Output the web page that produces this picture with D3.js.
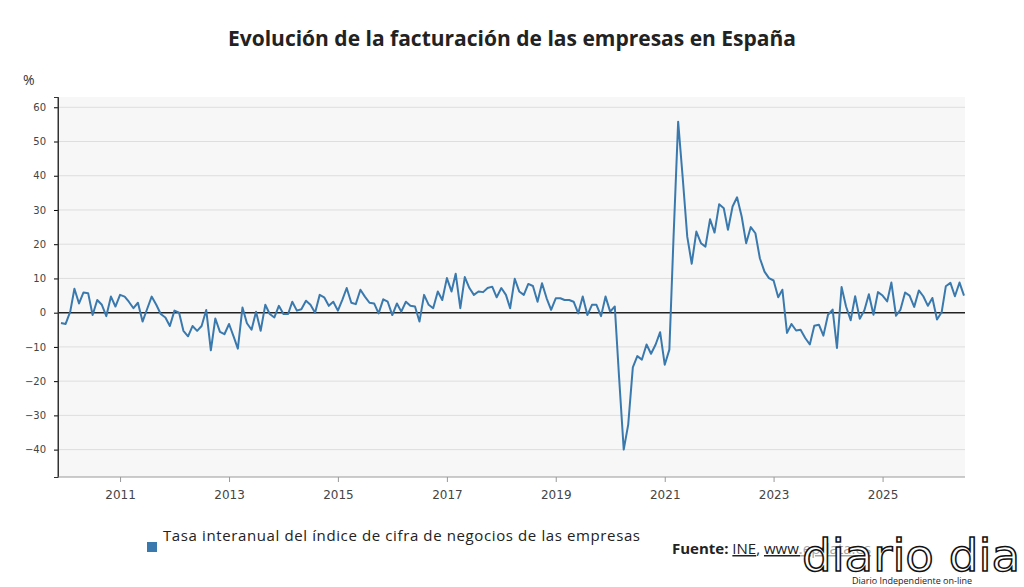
<!DOCTYPE html>
<html><head><meta charset="utf-8">
<script src="https://cdn.jsdelivr.net/npm/d3@7/dist/d3.min.js"></script>
<style>body{margin:0;background:#fff;font-family:"Open Sans","DejaVu Sans",sans-serif}</style>
</head><body><svg id="c" width="1024" height="587"></svg>
<script>
const startYear = 2009, startMonth = 11; // Dec 2009 (0-based month)
const values = [
-3,-3.3,0.3,7,2.7,5.9,5.7,-0.7,3.7,2.3,-1,4.7,
1.8,5.2,4.7,3.2,1.3,2.9,-2.6,1,4.7,2.3,-0.4,-1.4,
-3.9,0.6,0,-5.3,-6.9,-3.9,-5.3,-3.9,0.8,-11,-1.7,-5.6,
-6.3,-3.3,-7,-10.5,1.5,-3.1,-5,0.3,-5.3,2.3,-0.4,-1.4,
2,-0.4,-0.4,3.2,0.6,1,3.5,2.3,0,5.2,4.5,2,
3.2,0.6,3.9,7.2,2.9,2.5,6.7,4.7,2.9,2.7,
-0.2,3.9,3.2,-0.7,2.7,0.3,3.2,2,1.8,-2.6,5.2,2.3,1.3,6.2,3.7,10.1,6.2,11.4,1.3,10.4,7.2,5.2,6.2,6,7.2,7.6,4.5,7.2,5.2,1.3,9.9,6.2,5.2,8.4,7.8,3.2,8.6,4.2,0.8,4.2,4.2,3.7,3.7,3.2,-0.2,4.7,-0.7,2.3,2.3,-1,4.7,0.3,1.8,
-19,-40,-32.7,-16,-12.7,-13.7,-9.3,-12,-9.3,-5.7,-15.2,-10.8,22,55.8,39.7,22.2,14.3,23.7,20.3,19.3,27.3,23.4,31.7,30.5,24.2,31,33.7,28.1,20.3,25,23.2,15.9,12,10.1,9.4,4.5,6.7,-5.9,-3.3,-5.2,
-5,-7.4,-9.3,-3.8,-3.5,-6.7,-0.6,0.9,-10.3,7.5,1.8,-2.2,4.8,-1.8,0.7,5.4,-0.6,6,5,3.3,8.8,-0.9,0.9,5.9,5,1.7,6.5,4.8,2,4.3,-2,0.1,7.7,8.7,4.8,8.8,5
];
const yTicks = [-40,-30,-20,-10,0,10,20,30,40,50,60];
const xTickYears = [2011,2013,2015,2017,2019,2021,2023,2025];
const title = "Evolución de la facturación de las empresas en España";
const legendLabel = "Tasa interanual del índice de cifra de negocios de las empresas";

const dates = values.map((v,i)=>new Date(startYear, startMonth+i, 1));
const svg = d3.select("#c");
const L=58,R=965,T=97,B=477;
const x = d3.scaleTime().domain([dates[0], dates[dates.length-1]]).range([61,964]);
const y = d3.scaleLinear().domain([-48,63]).range([B,T]);

svg.append("rect").attr("x",L).attr("y",T).attr("width",R-L).attr("height",B-T).attr("fill","#f7f7f7");
svg.append("g").selectAll("line").data(yTicks).join("line")
 .attr("x1",L).attr("x2",R).attr("y1",d=>y(d)).attr("y2",d=>y(d))
 .attr("stroke",d=>d===0?"#222":"#dedede").attr("stroke-width",d=>d===0?1.6:1);
const ya = svg.append("g").attr("transform",`translate(${L},0)`).call(d3.axisLeft(y).tickValues(yTicks).tickSize(4).tickPadding(8));
ya.select(".domain").attr("stroke","#333");
ya.selectAll("text").attr("font-size",10).attr("fill","#444").attr("font-family","DejaVu Sans");
const xa = svg.append("g").attr("transform",`translate(0,${B})`).call(d3.axisBottom(x).tickValues(xTickYears.map(yy=>new Date(yy,0,1))).tickFormat(d3.timeFormat("%Y")).tickSize(5).tickPadding(8));
xa.select(".domain").attr("stroke","#999").attr("d",`M${L},0H${R}`);
xa.selectAll(".tick line").attr("stroke","#999");
xa.selectAll("text").attr("font-size",12).attr("fill","#444").attr("font-family","DejaVu Sans");
svg.append("line").attr("x1",L).attr("x2",L).attr("y1",T).attr("y2",B).attr("stroke","#333");

svg.append("path").datum(values).attr("fill","none").attr("stroke","#3a79ad").attr("stroke-width",2)
 .attr("stroke-linejoin","round")
 .attr("d",d3.line().x((d,i)=>x(dates[i])).y(d=>y(d)));

svg.append("text").attr("x",512).attr("y",46).attr("text-anchor","middle").attr("font-size",21).attr("font-weight","bold").attr("fill","#222").attr("font-family","Open Sans").text(title);
svg.append("text").attr("x",23).attr("y",85).attr("font-size",14).attr("fill","#333").text("%");
svg.append("rect").attr("x",147).attr("y",542).attr("width",10).attr("height",10).attr("fill","#3a79ad");
svg.append("text").attr("x",163).attr("y",541).attr("font-size",15).attr("textLength",477).attr("fill","#222").text(legendLabel);
const f = svg.append("text").attr("x",672).attr("y",554).attr("font-size",15).attr("fill","#222");
f.append("tspan").attr("font-weight","bold").text("Fuente: ");
f.append("tspan").attr("text-decoration","underline").text("INE");
f.append("tspan").text(", ");
f.append("tspan").attr("text-decoration","underline").text("www.epdata.es");
svg.append("rect").attr("x",800).attr("y",524).attr("width",224).attr("height",63).attr("fill","#fff").attr("opacity",0.6);
svg.append("text").attr("x",802).attr("y",571).attr("font-size",44).attr("textLength",218).attr("lengthAdjust","spacingAndGlyphs").attr("font-family","DejaVu Sans").attr("fill","#fff").attr("stroke","#111").attr("stroke-width",1.5).text("diario dia");
svg.append("text").attr("x",912).attr("y",584).attr("text-anchor","middle").attr("font-size",9).attr("fill","#222").text("Diario Independiente on-line");
</script></body></html>
